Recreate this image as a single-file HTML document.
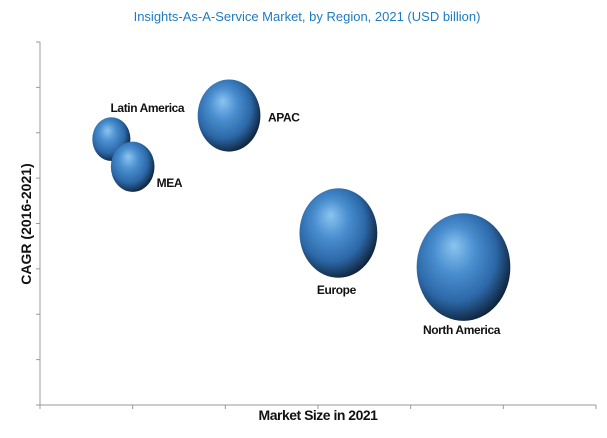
<!DOCTYPE html>
<html><head><meta charset="utf-8"><style>
body{margin:0;background:#fff;}
svg{display:block;font-family:"Liberation Sans",sans-serif;}
</style></head><body>
<svg id="chart" width="607" height="438" viewBox="0 0 607 438">
<defs>
<radialGradient id="ball" cx="0.42" cy="0.42" r="0.62" fx="0.4" fy="0.3">
<stop offset="0" stop-color="#8cc4ef"/>
<stop offset="0.35" stop-color="#4a8fd0"/>
<stop offset="0.7" stop-color="#2c68a8"/>
<stop offset="0.9" stop-color="#17385c"/>
<stop offset="1" stop-color="#0c1e33"/>
</radialGradient>
</defs>
<text x="307" y="21" text-anchor="middle" font-size="13" fill="#1f7bc1">Insights-As-A-Service Market, by Region, 2021 (USD billion)</text>
<g id="axes"></g>
<g id="bubbles"></g>
<text x="318" y="420" text-anchor="middle" font-size="14" font-weight="bold" fill="#111" letter-spacing="-0.5">Market Size in 2021</text>
<text transform="translate(31,224) rotate(-90)" text-anchor="middle" font-size="14" font-weight="bold" fill="#111">CAGR (2016-2021)</text>
</svg>
<script>
const regions=["Latin America","MEA","APAC","Europe","North America"];
const marketSize=[0.77,1.0,2.04,3.22,4.57];
const cagr=[5.86,5.25,6.38,3.79,3.04];
const bubbleSize=[4.8,6.3,13,20,29];
const labelDx=[36,24,39,-2,-2];
const labelDy=[-27,20,6,61,67];
const labelAnchor=["middle","start","start","middle","middle"];
const xTicks=[0,1,2,3,4,5,6];
const yTicks=[0,1,2,3,4,5,6,7,8];
const X0=40,X1=596,Y0=405,Y1=42;
const sx=v=>X0+(v-0)/(6-0)*(X1-X0);
const sy=v=>Y0-(v-0)/(8-0)*(Y0-Y1);
const NS="http://www.w3.org/2000/svg";
const axes=document.getElementById('axes');
function mk(tag,attrs,parent){const e=document.createElementNS(NS,tag);for(const k in attrs)e.setAttribute(k,attrs[k]);parent.appendChild(e);return e;}
let l=mk('line',{x1:X0,y1:Y1,x2:X0,y2:Y0,stroke:'#999','stroke-width':1},axes);


l=mk('line',{x1:X0,y1:Y0,x2:X1,y2:Y0,stroke:'#999','stroke-width':1},axes);


yTicks.forEach(t=>{const e=mk('line',{x1:X0-4,x2:X0,y1:sy(t),y2:sy(t),stroke:'#999'},axes);

});
xTicks.forEach(t=>{const e=mk('line',{x1:sx(t),x2:sx(t),y1:Y0,y2:Y0+4,stroke:'#999'},axes);

});
const bg=document.getElementById('bubbles');
regions.forEach((r,i)=>{
 const cx=sx(marketSize[i]),cy=sy(cagr[i]);
 const ry=10*Math.sqrt(bubbleSize[i]),rx=ry*0.87;
 const e=mk('ellipse',{cx:cx,cy:cy,rx:rx,ry:ry,fill:'url(#ball)'},bg);
 
 
 const t=mk('text',{x:cx+labelDx[i],y:cy+labelDy[i],'text-anchor':labelAnchor[i],'font-size':12,'font-weight':'bold',fill:'#111','letter-spacing':'-0.4'},bg);
 t.textContent=r;
 
 
});
</script>
</body></html>
